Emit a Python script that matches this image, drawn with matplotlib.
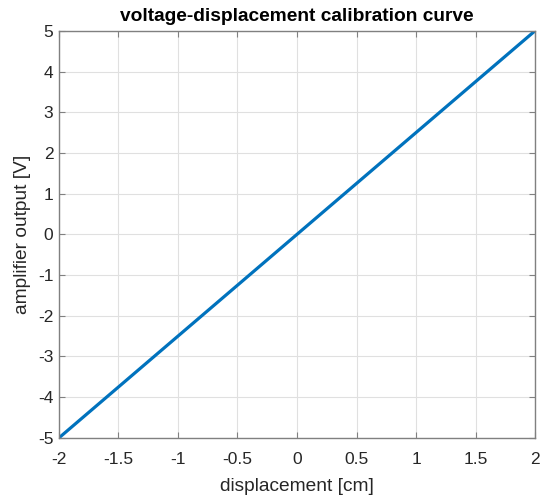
import numpy as np
import matplotlib.pyplot as plt

plt.rcParams['font.family'] = ['Liberation Sans', 'DejaVu Sans']

# calibration data (displacement in cm, amplifier output in V)
displacement = [-2, -1.5, -1, -0.5, 0, 0.5, 1, 1.5, 2]
voltage = [-5, -3.75, -2.5, -1.25, 0, 1.25, 2.5, 3.75, 5]

xticks = [-2, -1.5, -1, -0.5, 0, 0.5, 1, 1.5, 2]
yticks = [-5, -4, -3, -2, -1, 0, 1, 2, 3, 4, 5]

fig = plt.figure(figsize=(5.41, 4.97), dpi=100)
ax = fig.add_axes([0.109, 0.119, 0.880, 0.819])

ax.plot(displacement, voltage, color='#0072BD', lw=2.3)

ax.set_xlim(-2, 2)
ax.set_ylim(-5, 5)
ax.set_xticks(xticks)
ax.set_xticklabels(['-2', '-1.5', '-1', '-0.5', '0', '0.5', '1', '1.5', '2'])
ax.set_yticks(yticks)
ax.set_yticklabels([str(t) for t in yticks])

ax.grid(True, color='#e0e0e0', lw=0.8)
ax.set_axisbelow(True)
for s in ax.spines.values():
    s.set_color('#808080')
    s.set_linewidth(1.0)
ax.tick_params(direction='in', length=4, color='#808080', labelcolor='#262626',
               labelsize=12.5, top=True, right=True)
ax.tick_params(axis='x', pad=10)
ax.tick_params(axis='y', pad=4)

ax.set_title('voltage-displacement calibration curve', fontsize=13.8, fontweight='bold', pad=7)
ax.set_xlabel('displacement [cm]', fontsize=13.8, color='#262626', labelpad=8)
ax.set_ylabel('amplifier output [V]', fontsize=13.8, color='#262626', labelpad=5)

fig.savefig('out.png', dpi=100)
